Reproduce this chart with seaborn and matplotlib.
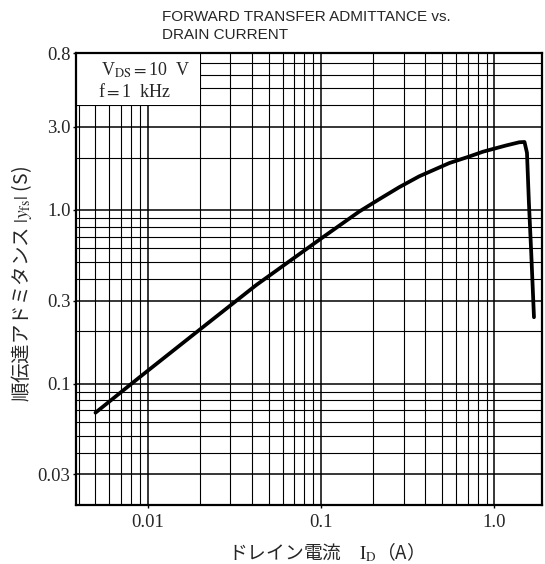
import numpy as np
import pandas as pd
import matplotlib
matplotlib.use("Agg")
import matplotlib.pyplot as plt
import seaborn as sns
from matplotlib import font_manager
from matplotlib.patches import Rectangle
from matplotlib.ticker import FixedLocator, LogLocator, NullFormatter

# ---- data ----
drain_current = [0.005, 0.0090, 0.0199, 0.0421, 0.1, 0.166, 0.216,
                 0.282, 0.368, 0.549, 0.717, 0.856, 0.978, 1.17, 1.39, 1.49,
                 1.54, 1.58, 1.63, 1.69]
yfs = [0.068, 0.109, 0.204, 0.368, 0.684, 0.978, 1.15,
       1.35, 1.56, 1.86, 2.03, 2.16, 2.24, 2.35, 2.45, 2.46,
       2.13, 1.10, 0.562, 0.241]
x_ticks = [0.01, 0.1, 1.0]
x_ticklabels = ["0.01", "0.1", "1.0"]
y_ticks = [0.03, 0.1, 0.3, 1.0, 3.0, 8.0]
y_ticklabels = ["0.03", "0.1", "0.3", "1.0", "3.0", "0.8"]
title_lines = ["FORWARD TRANSFER ADMITTANCE vs.", "DRAIN CURRENT"]
cond_lines = ["V$_{\\rm DS}$$=$10  V", "f$=$1  kHz"]

df = pd.DataFrame({"Id": drain_current, "yfs": yfs})

sns.set_theme(style="white")
plt.rcParams["font.family"] = ["Liberation Serif", "DejaVu Serif"]
plt.rcParams["mathtext.fontset"] = "stix"

names = {f.name for f in font_manager.fontManager.ttflist}

fig = plt.figure(figsize=(5.45, 5.64), dpi=100)
ax = fig.add_axes([76 / 545, 1 - 505 / 564, (542 - 76) / 545, (505 - 53) / 564])
ax.set_xscale("log")
ax.set_yscale("log")
XMIN = 0.00386
ax.set_xlim(XMIN, 1.88)
ax.set_ylim(0.02, 8.0)

# grid
ax.xaxis.set_minor_locator(LogLocator(base=10, subs=np.arange(2, 10)))
ax.yaxis.set_minor_locator(LogLocator(base=10, subs=np.arange(2, 10)))
ax.xaxis.set_minor_formatter(NullFormatter())
ax.yaxis.set_minor_formatter(NullFormatter())
ax.set_axisbelow(True)
ax.grid(True, which="major", color="black", linewidth=1.1)
ax.grid(True, which="minor", color="black", linewidth=0.8)

# white label box in the top-left corner
ax.add_patch(Rectangle((XMIN, 4.0), 0.02 - XMIN, 4.0, facecolor="white",
                       edgecolor="none", zorder=1))

sns.lineplot(data=df, x="Id", y="yfs", ax=ax, color="black", linewidth=2.7,
             sort=False, estimator=None, zorder=3)
ax.lines[-1].set_solid_joinstyle("round")
ax.lines[-1].set_solid_capstyle("round")

ax.xaxis.set_major_locator(FixedLocator(x_ticks))
ax.yaxis.set_major_locator(FixedLocator(y_ticks))
ax.set_xticklabels(x_ticklabels)
ax.set_yticklabels(y_ticklabels)
ax.tick_params(axis="both", which="major", labelsize=13.5, length=2.5, width=1,
               direction="out", color="black", pad=1.5)
ax.tick_params(axis="x", which="major", pad=4)
ax.tick_params(axis="both", which="minor", length=0)
ax.tick_params(left=True, bottom=True)

for s in ax.spines.values():
    s.set_color("black")
    s.set_linewidth(1.6)

ax.set_xlabel("ドレイン電流　$\\mathrm{I_D}$（A）",
              fontsize=13.5, family=["Noto Sans CJK JP", "DejaVu Sans"])
ax.xaxis.set_label_coords(0.525, -0.078)
ax.set_ylabel("順伝達アドミタンス $|y_{\\rm fs}|$ (S)",
              fontsize=14, family=["Noto Sans CJK JP", "DejaVu Sans"])
ax.yaxis.set_label_coords(-0.09, 0.49)

# conditions
ax.text(101 / 545, 1 - 76 / 564, cond_lines[0], transform=fig.transFigure,
        fontsize=13, ha="left", va="baseline", zorder=5)
ax.text(98 / 545, 1 - 97 / 564, cond_lines[1], transform=fig.transFigure,
        fontsize=13, ha="left", va="baseline", zorder=5)

# title
if "Liberation Sans Narrow" in names:
    tfam, tsize = ["Liberation Sans Narrow", "DejaVu Sans"], 13
else:
    tfam, tsize = ["Liberation Sans", "DejaVu Sans"], 11
fig.text(162 / 545, 1 - 21 / 564, title_lines[0], fontsize=tsize, family=tfam,
         ha="left", va="baseline")
fig.text(162 / 545, 1 - 39 / 564, title_lines[1], fontsize=tsize, family=tfam,
         ha="left", va="baseline")

fig.savefig("out.png", dpi=100, facecolor="white")
